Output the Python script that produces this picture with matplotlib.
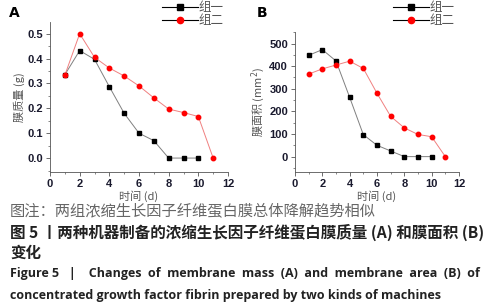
import matplotlib.pyplot as plt
from matplotlib.ticker import MultipleLocator
from matplotlib.lines import Line2D

plt.rcParams['font.family'] = ['Noto Sans CJK SC', 'DejaVu Sans']

# 数据
days1 = [1, 2, 3, 4, 5, 6, 7, 8, 9, 10]
days2 = [1, 2, 3, 4, 5, 6, 7, 8, 9, 10, 11]
mass1 = [0.335, 0.432, 0.397, 0.287, 0.180, 0.100, 0.070, 0.0, 0.0, 0.0]
mass2 = [0.333, 0.500, 0.405, 0.362, 0.330, 0.290, 0.242, 0.197, 0.183, 0.167, 0.0]
area1 = [448, 473, 423, 262, 97, 50, 25, 0, 0, 0]
area2 = [365, 388, 405, 422, 390, 280, 178, 127, 98, 88, 0]
labels = ['组一', '组二']

fig = plt.figure(figsize=(4.98, 3.08), dpi=100)
W, H = 498, 308

def px(x0, y0, x1, y1):
    return [x0 / W, 1 - y1 / H, (x1 - x0) / W, (y1 - y0) / H]

tick_font = dict(family='Liberation Sans', fontsize=8, fontweight='bold', color='#1a1a2e')

def panel(rect, y1, y2, ylim, ystep, ylabel, letter, letter_x, lx):
    ax = fig.add_axes(rect)
    ax.plot(days1, y1, color='#808080', lw=0.7, marker='s', ms=3,
            mfc='black', mec='black')
    ax.plot(days2, y2, color='#f08080', lw=0.7, marker='o', ms=3.2,
            mfc='red', mec='red')
    ax.set_xlim(0, 12)
    ax.set_ylim(*ylim)
    ax.xaxis.set_major_locator(MultipleLocator(2))
    ax.xaxis.set_minor_locator(MultipleLocator(1))
    ax.yaxis.set_major_locator(MultipleLocator(ystep))
    ax.yaxis.set_minor_locator(MultipleLocator(ystep / 2))
    ax.spines['top'].set_visible(False)
    ax.spines['right'].set_visible(False)
    for s in ['left', 'bottom']:
        ax.spines[s].set_color('#555555')
        ax.spines[s].set_linewidth(0.6)
    ax.tick_params(which='major', length=3, width=0.6, color='#555555', pad=2)
    ax.tick_params(which='minor', length=1.5, width=0.5, color='#555555')
    for t in ax.get_xticklabels() + ax.get_yticklabels():
        t.set(**tick_font)
    ax.set_xlabel('时间 (d)', fontsize=8, color='#555555', labelpad=1)
    ax.set_ylabel(ylabel, fontsize=8, color='#555555', labelpad=2)
    fig.text(letter_x / W, 1 - 13 / H, letter, fontsize=10,
             fontweight='bold', family='DejaVu Sans', va='center', ha='center')
    # 图例
    handles = [Line2D([], [], color='black', lw=0.8, marker='s', ms=4.5),
               Line2D([], [], color='black', lw=0.8, marker='o', ms=4.5,
                      mfc='red', mec='red')]
    fig.legend(handles, labels, loc='upper left',
               bbox_to_anchor=(lx / W, 1 - 1 / H), frameon=False,
               fontsize=9, handlelength=2.9, handletextpad=0.05,
               labelspacing=0.0, borderpad=0.0, borderaxespad=0.0,
               labelcolor='#555555')
    return ax

panel(px(50, 22, 228, 172), mass1, mass2, (-0.056, 0.547), 0.1,
      '膜质量 (g)', 'A', 14, 162)
panel(px(295, 32, 459, 172), area1, area2, (-68, 551), 100,
      '膜面积 (mm$^2$)', 'B', 262, 393)

fig.text(10 / W, 1 - 211 / H, '图注：两组浓缩生长因子纤维蛋白膜总体降解趋势相似',
         fontsize=11, color='#666666', va='center')
fig.text(10 / W, 1 - 232 / H, '图 5 丨两种机器制备的浓缩生长因子纤维蛋白膜质量 (A) 和膜面积 (B)',
         fontsize=11.2, fontweight='bold', color='#222222', va='center')
fig.text(10 / W, 1 - 253 / H, '变化',
         fontsize=11.2, fontweight='bold', color='#222222', va='center')
fig.text(10 / W, 1 - 274 / H,
         'Figure 5   |    Changes  of  membrane  mass  (A)  and  membrane  area  (B)  of',
         fontsize=9.0, fontweight='bold', family='Open Sans', color='#222222',
         va='center')
fig.text(10 / W, 1 - 295 / H,
         'concentrated growth factor fibrin prepared by two kinds of machines',
         fontsize=9.0, fontweight='bold', family='Open Sans', color='#222222',
         va='center')

fig.savefig('out.png', dpi=100)
